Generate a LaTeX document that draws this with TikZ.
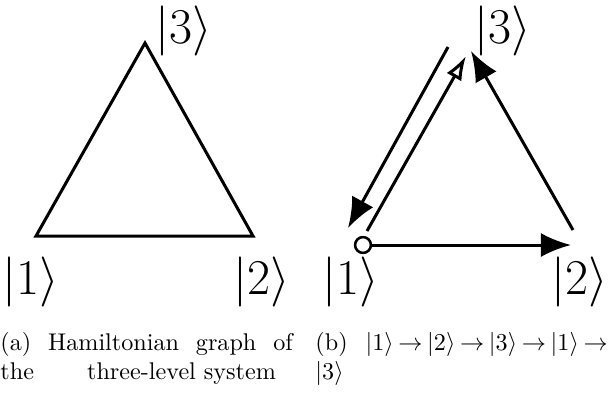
\documentclass[tikz,border=0pt]{standalone}
\usepackage{amsmath,amssymb}
\usetikzlibrary{arrows.meta}
\tikzset{
  ket/.style={
    inner sep = 0pt,
    font=\huge
  },
  edge/.style={
    line width=1.25pt,
    line join=miter
  },
  flow/.style={
    line width=1.25pt,
    -{Latex[length=12.5pt,width=10pt]}
  },
  openflow/.style={
    line width=1.25pt,
    -{Latex[open,length=10pt,width=7pt]}
  },
  startdot/.style={
    shape = circle,
    draw,
    fill=white,
    line width=1pt,
    inner sep = 0pt,
    minimum size=6.5pt
  },
  caption/.style={
    inner sep = 0pt,
    anchor=north west,
    text width=121pt,
    align=left,
    font=\normalsize
  }
}
\begin{document}
\begin{tikzpicture}[x=0.414pt,y=-0.414pt]
        \useasboundingbox (0,0) rectangle (608,394);
        % (a) the graph
        \coordinate (a1) at (36,236);
        \coordinate (a2) at (253,236);
        \coordinate (a3) at (145,43);
        \draw[edge] (a1)--(a2)--(a3)--cycle;
        \node[ket] (ka1) at (31,282) {$|1\rangle$};
        \node[ket] (ka2) at (262,282) {$|2\rangle$};
        \node[ket] (ka3) at (184,31) {$|3\rangle$};
        % (b) the cycle
        \node[ket] (kb1) at (351,282) {$|1\rangle$};
        \node[ket] (kb2) at (580,282) {$|2\rangle$};
        \node[ket] (kb3) at (503,31) {$|3\rangle$};
        \node[startdot] (s) at (363,245) {};
        \coordinate (b2) at (571,245);
        \coordinate (c2) at (573,230);
        \coordinate (c3) at (471,51);
        \coordinate (d1) at (367,231);
        \coordinate (d3) at (466,56);
        \coordinate (e3) at (448,47);
        \coordinate (e1) at (348,228);
        \draw[flow] (s)--(b2);
        \draw[flow] (c2)--(c3);
        \draw[openflow] (d1)--(d3);
        \draw[flow] (e3)--(e1);
        \node[startdot] at (s) {};
        % captions
        \node[caption] (capa) at (0,332)
          {(a)\hfill Hamiltonian\hfill graph\hfill of\\
           the\hspace*{22pt}three-level system};
        \node[caption] (capb) at (315,332)
          {\thickmuskip=3.5mu
           (b)\hfill$|1\rangle\to|2\rangle\to|3\rangle\to|1\rangle\to$\\
           $|3\rangle$};
    \end{tikzpicture}
\end{document}
